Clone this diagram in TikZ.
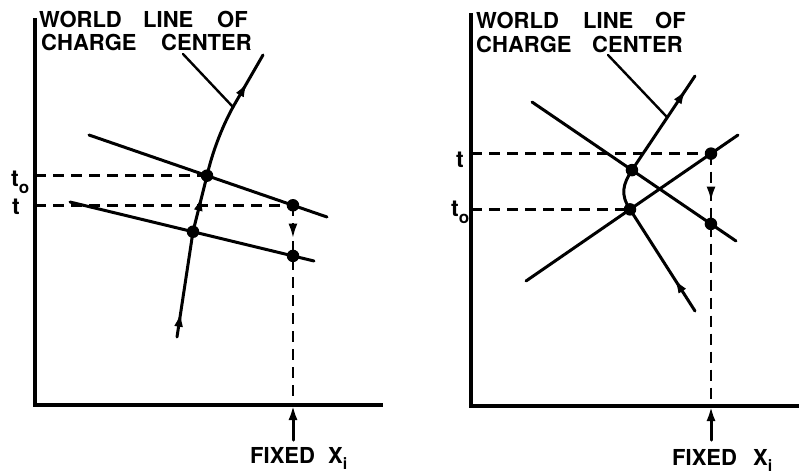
\documentclass[tikz,border=0pt]{standalone}
\usepackage{fontspec}
\setmainfont{TeX Gyre Heros}
\usetikzlibrary{arrows.meta,decorations.markings,calc}
\tikzset{
  lbl/.style={inner sep=0pt, anchor=base west, font=\fontsize{22}{22}\selectfont\bfseries},
  tlbl/.style={inner sep=0pt, anchor=base west, font=\fontsize{23}{23}\selectfont\bfseries},
  ln/.style={line width=3pt, line cap=round, line join=round},
  axisline/.style={line width=3.2pt, line cap=butt, line join=miter},
  dsh/.style={line width=2.8pt, dash pattern=on 11pt off 7pt},
  chargedot/.style={circle, fill, inner sep=0pt, minimum size=12.5pt},
  tiparrow/.style={-{Latex[length=15pt,width=9pt]}},
  midarrow/.style={postaction={decorate}, decoration={markings,
      mark=at position #1 with {\arrow[solid]{Latex[length=15pt,width=9pt]}}}},
}
\newcommand{\subo}{\raisebox{-7pt}{\fontsize{17}{17}\selectfont o}}
\newcommand{\subi}{\raisebox{-6pt}{\fontsize{16}{16}\selectfont i}}
\begin{document}
\begin{tikzpicture}[x=1pt,y=-1pt]
\useasboundingbox (0,0) rectangle (799,475);

% ================= LEFT PANEL =================
\coordinate (LO) at (35,405);
\coordinate (LYt) at (35,18);
\coordinate (LXr) at (383,405);
\draw[axisline] (LYt) -- (LO) -- (LXr);

\node[lbl] (lw1) at (39,27) {WORLD};
\node[lbl] (lw2) at (143,27) {LINE};
\node[lbl] (lw3) at (217,27) {OF};
\node[lbl] (lw4) at (41,50) {CHARGE};
\node[lbl] (lw5) at (161,50) {CENTER};

\node[tlbl] (lt0) at (11,186) {t\subo};
\node[tlbl] (lt) at (12,214) {t};

\coordinate (Ua) at (89,135);  \coordinate (Ub) at (327,217);
\coordinate (Da) at (70,202);  \coordinate (Db) at (314,261);
\draw[ln] (Ua) -- (Ub);
\draw[ln] (Da) -- (Db);
\node[chargedot] (LU) at ($(Ua)!0.4958!(Ub)$) {};
\node[chargedot] (LF1) at ($(Ua)!0.857!(Ub)$) {};
\node[chargedot] (LL) at ($(Da)!0.504!(Db)$) {};
\node[chargedot] (LF2) at ($(Da)!0.914!(Db)$) {};

\draw[dsh] (LU.center -| LO) -- (LU.center);
\draw[dsh] (LF1.center -| LO) -- (LF1.center);
\draw[dsh, midarrow=0.167] (LF1.center) -- (LF1.center |- LO);

\coordinate (Lwb) at (177,337);
\coordinate (LP) at (233,107);
\coordinate (Lwt) at (263,55);
\draw[ln, midarrow=0.24] (Lwb) -- (LL.center);
\draw[ln, midarrow=0.64] (LL.center) -- (LU.center);
\draw[ln] (LU.center) .. controls +(5,-22) and +(-12,22) .. (LP);
\draw[ln, midarrow=0.48] (LP) -- (Lwt);
\coordinate (Lpt) at (183,54);
\draw[ln, line width=2.4pt] (Lpt) -- (LP);

\coordinate (LFx) at (293,440);
\draw[ln, tiparrow] (LFx) -- (LFx |- LO);
\node[lbl] (lfix) at (250,463) {FIXED};
\node[lbl] (lxi) at (328,463) {X\subi};

% ================= RIGHT PANEL =================
\coordinate (RO) at (471,406);
\coordinate (RYt) at (471,13);
\coordinate (RXr) at (799,406);
\draw[axisline] (RYt) -- (RO) -- (RXr);

\node[lbl] (rw1) at (476,28) {WORLD};
\node[lbl] (rw2) at (583,28) {LINE};
\node[lbl] (rw3) at (655,28) {OF};
\node[lbl] (rw4) at (476,52) {CHARGE};
\node[lbl] (rw5) at (592,52) {CENTER};

\node[tlbl] (rt) at (456,167) {t};
\node[tlbl] (rt0) at (451,216) {t\subo};

\coordinate (Aa) at (532,102); \coordinate (Ab) at (736,241);
\coordinate (Ba) at (526,281); \coordinate (Bb) at (738,135);
\draw[ln] (Aa) -- (Ab);
\draw[ln] (Ba) -- (Bb);
\node[chargedot] (RU) at ($(Aa)!0.490!(Ab)$) {};
\node[chargedot] (RF2) at ($(Aa)!0.877!(Ab)$) {};
\node[chargedot] (RL) at ($(Ba)!0.4906!(Bb)$) {};
\node[chargedot] (RF1) at ($(Ba)!0.8726!(Bb)$) {};

\draw[dsh] (RF1.center -| RO) -- (RF1.center);
\draw[dsh] (RL.center -| RO) -- (RL.center);
\draw[dsh, midarrow=0.19] (RF1.center) -- (RF1.center |- RO);

\coordinate (Rwb) at (695,311);
\coordinate (Rwt) at (695,76);
\draw[ln, midarrow=0.32] (Rwb) -- (RL.center);
\draw[ln] (RL.center) .. controls +(-10,-15) and +(-9,14) .. (RU.center);
\draw[ln, midarrow=0.86] (RU.center) -- (Rwt);
\coordinate (RP) at ($(RU)!0.56!(Rwt)$);
\coordinate (Rpt) at (608,55);
\draw[ln, line width=2.4pt] (Rpt) -- (RP);

\coordinate (RFx) at (711,440);
\draw[ln, tiparrow] (RFx) -- (RFx |- RO);
\node[lbl] (rfix) at (672,465) {FIXED};
\node[lbl] (rxi) at (753,465) {X\subi};
\end{tikzpicture}
\end{document}
